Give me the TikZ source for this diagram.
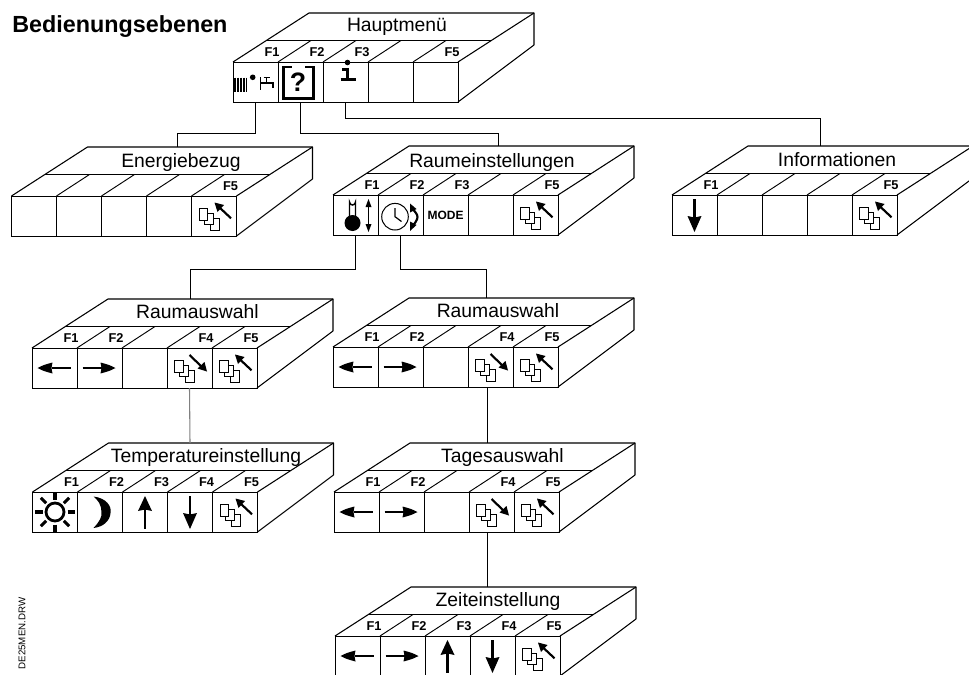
\documentclass[tikz,border=0pt]{standalone}
\usepackage{fontspec}
\setmainfont{Liberation Sans}
\tikzset{
  edge3d/.style={line width=0.8pt,line join=round},
  cell/.style={draw,line width=0.7pt,minimum width=33.75pt,minimum height=30pt,inner sep=0pt,outer sep=0pt,anchor=north west},
  boxtitle/.style={font=\fontsize{14.5}{16}\selectfont,anchor=base,inner sep=0pt},
  fkey/.style={font=\fontsize{9.6}{10}\selectfont\bfseries,inner sep=0pt},
  conn/.style={line width=0.7pt},
  connlight/.style={line width=0.8pt,draw=black!50},
  shaft/.style={line width=2.2pt},
  pics/pages/.style={code={
    \filldraw[fill=white,line width=0.65pt] (-4,2) rectangle (5,14);
    \filldraw[fill=white,line width=0.65pt] (-10,-3) rectangle (-1,8);
    \filldraw[fill=white,line width=0.65pt] (-15,-7.5) rectangle (-6.5,4);
  }},
  pics/backkey/.style={code={
    \pic {pages};
    \draw[line width=1.6pt] (17,2.3) -- (5,-9);
    \fill (0.5,-13.5) -- (10,-11) -- (3.5,-4) -- cycle;
  }},
  pics/fwdkey/.style={code={
    \pic {pages};
    \draw[line width=1.6pt] (0,-13) -- (12,-1.5);
    \fill (17.5,3.5) -- (15,-6) -- (8,0.5) -- cycle;
  }},
  pics/leftkey/.style={code={
    \draw[shaft] (-3,0) -- (16,0);
    \fill (-17,0) .. controls (-11,-3) .. (-2,-5.5) -- (-3,0) -- (-2,5.5) .. controls (-11,3) .. (-17,0) -- cycle;
  }},
  pics/rightkey/.style={code={
    \draw[shaft] (-17,0) -- (3,0);
    \fill (16,0) .. controls (10,-3) .. (1,-5.5) -- (2,0) -- (1,5.5) .. controls (10,3) .. (16,0) -- cycle;
  }},
  pics/upkey/.style={code={
    \draw[shaft] (0,-3) -- (0,17);
    \fill (0,-16) -- (7,-1) -- (0,-2.5) -- (-7,-1) -- cycle;
  }},
  pics/downkey/.style={code={
    \draw[shaft] (0,-16) -- (0,3);
    \fill (0,17) -- (7,1) -- (0,2.5) -- (-7,1) -- cycle;
  }},
  pics/sunkey/.style={code={
    \draw[line width=2.1pt] (0,0) circle (9);
    \foreach \a in {0,45,...,315}
      \draw[line width=2.3pt] (\a:12.5) -- (\a:20);
  }},
  pics/moonkey/.style={code={
    \fill (-6.5,-15.5) .. controls (6,-14) and (12,-6) .. (10.5,1)
      .. controls (10,9) and (3,15) .. (-6.5,16)
      .. controls (0,9) and (2,5) .. (1.5,0)
      .. controls (1.5,-7) and (-2,-12) .. (-6.5,-15.5) -- cycle;
  }},
  pics/thermokey/.style={code={
    \draw[line width=1.1pt] (-6,3) -- (-6,-13) arc (180:0:3) -- (0,3);
    \fill (-3,8) circle (8);
    \draw[line width=1.3pt] (13,-12) -- (13,14);
    \fill (13,-16) -- (16,-8) -- (10,-8) -- cycle;
    \fill (13,17) -- (16,9) -- (10,9) -- cycle;
  }},
  pics/clockkey/.style={code={
    \draw[line width=0.75pt] (-5.5,1.7) circle (13.3);
    \draw[line width=0.9pt] (-5.5,-7) -- (-5.5,1.7) -- (1,6.5);
    \draw[line width=1.6pt] (11,-7) .. controls (14,-4) and (17,-1) .. (17,2)
       .. controls (17,5) and (14,9) .. (11,12);
    \fill (9.5,-11.5) -- (16,-6) -- (9.5,-2.5) -- cycle;
    \fill (9.5,16) -- (16,10) -- (9.5,6.5) -- cycle;
  }},
  pics/helpkey/.style={code={
    \draw[line width=2pt] (-9,-15) -- (-17,-15) -- (-17,16.5) -- (13,16.5) -- (13,-15) -- (4,-15);
    \node[inner sep=0pt,font=\fontsize{20}{20}\selectfont\bfseries] at (-2.5,0) {?};
  }},
  pics/infokey/.style={code={
    \fill (2,-19.5) circle (2.8);
    \draw[line width=2.6pt] (-3.5,-12.5) -- (2,-12.5) -- (2,-2.5);
    \draw[line width=2.6pt] (-5,-2.5) -- (10.5,-2.5);
  }},
  pics/energykey/.style={code={
    \foreach \x in {-20.5,-17.5,-14.5,-11.5,-9}
      \draw[line width=1.1pt] (\x,-4.5) -- (\x,10);
    \fill (-2.8,-4.7) circle (2.8);
    \draw[line width=1pt] (5,-5) -- (5,8);
    \draw[line width=1pt] (5,1) -- (17.5,1) -- (17.5,6);
    \draw[line width=1pt] (11,-4.5) -- (11,1);
    \draw[line width=1pt] (8,-4.5) -- (14,-4.5);
  }},
}
\newcommand{\kbox}[7]{%
  \begin{scope}[shift={(#2,#3)}]
    \foreach \i in {1,...,5}
      \node[cell] (#1\i) at ({45*(\i-1)},0) {};
    \draw[edge3d] (0,0) -- (76,-49) -- (301,-49) -- (301,-17) -- (225,40);
    \draw[edge3d] (225,0) -- (301,-49);
    \draw[edge3d] (33,-21.5) -- (258,-21.5);
    \foreach \i in {1,...,4}
      \draw[line width=0.7pt] ({45*\i},0) -- ({45*\i+33},-21.5);
    \foreach \i/\lab in {#7}
      \node[fkey] at ({39+45*(\i-1)},-10) {\lab};
    \node[boxtitle] (#1t) at ({#4-(#2)},{#5-(#3)}) {#6};
  \end{scope}%
}
\begin{document}
\begin{tikzpicture}[x=0.75pt,y=-0.75pt]
\clip (0,0) rectangle (969,674);
\fill[white] (0,0) rectangle (969,674);

\node[font=\fontsize{17.5}{20}\selectfont\bfseries,anchor=base west,inner sep=0pt] (heading) at (12,33) {Bedienungsebenen};
\node[font=\fontsize{7.3}{8}\selectfont,rotate=90,inner sep=0pt] (drawingref) at (22,633.5) {DE25MEN.DRW};

\kbox{hm}{233}{62}{397}{32}{Hauptmenü}{1/F1,2/F2,3/F3,5/F5}
\kbox{eb}{11.5}{196}{181}{167}{Energiebezug}{5/F5}
\kbox{re}{333}{195}{492}{167}{Raumeinstellungen}{1/F1,2/F2,3/F3,5/F5}
\kbox{in}{672}{195}{837}{166}{Informationen}{1/F1,5/F5}
\kbox{ra}{32}{348}{197.5}{318}{Raumauswahl}{1/F1,2/F2,4/F4,5/F5}
\kbox{rb}{333}{347}{498}{317}{Raumauswahl}{1/F1,2/F2,4/F4,5/F5}
\kbox{te}{32.5}{492}{206}{462}{Temperatureinstellung}{1/F1,2/F2,3/F3,4/F4,5/F5}
\kbox{ta}{334}{492}{502.5}{462}{Tagesauswahl}{1/F1,2/F2,4/F4,5/F5}
\kbox{ze}{335}{636}{498}{606}{Zeiteinstellung}{1/F1,2/F2,3/F3,4/F4,5/F5}

% icons
\pic at (hm1.center) {energykey};
\pic at (hm2.center) {helpkey};
\pic at (hm3.center) {infokey};
\pic at (eb5.center) {backkey};
\pic at (re1.center) {thermokey};
\pic at (re2.center) {clockkey};
\node[font=\fontsize{9}{10}\selectfont\bfseries,inner sep=0pt] (modekey) at (re3.center) {MODE};
\pic at (re5.center) {backkey};
\pic at (in1.center) {downkey};
\pic at (in5.center) {backkey};
\pic at (ra1.center) {leftkey};
\pic at (ra2.center) {rightkey};
\pic at (ra4.center) {fwdkey};
\pic at (ra5.center) {backkey};
\pic at (rb1.center) {leftkey};
\pic at (rb2.center) {rightkey};
\pic at (rb4.center) {fwdkey};
\pic at (rb5.center) {backkey};
\pic at (te1.center) {sunkey};
\pic at (te2.center) {moonkey};
\pic at (te3.center) {upkey};
\pic at (te4.center) {downkey};
\pic at (te5.center) {backkey};
\pic at (ta1.center) {leftkey};
\pic at (ta2.center) {rightkey};
\pic at (ta4.center) {fwdkey};
\pic at (ta5.center) {backkey};
\pic at (ze1.center) {leftkey};
\pic at (ze2.center) {rightkey};
\pic at (ze3.center) {upkey};
\pic at (ze4.center) {downkey};
\pic at (ze5.center) {backkey};

% connector end points on the rear edges
\coordinate (ebin) at (177,147);
\coordinate (rein) at (498,146);
\coordinate (inin) at (820,146);
\coordinate (rain) at (190,299);
\coordinate (rbin) at (486,298);
\coordinate (tein) at (190,443);
\coordinate (tain) at (487,443);
\coordinate (zein) at (487,587);
\coordinate (rbout) at (487,387);
\coordinate (taout) at (487,532);

\draw[conn] (hm1.south) -- ++(0,31) -| (ebin);
\draw[conn] (hm2.south) -- ++(0,31) -| (rein);
\draw[conn] (hm3.south) -- ++(0,16) -| (inin);
\draw[conn] (re1.south) -- ++(0,34) -| (rain);
\draw[conn] (re2.south) -- ++(0,34) -| (rbin);
\draw[connlight] (ra4.south) -- (tein);
\draw[conn] (rbout) -- (tain);
\draw[conn] (taout) -- (zein);
\end{tikzpicture}
\end{document}
